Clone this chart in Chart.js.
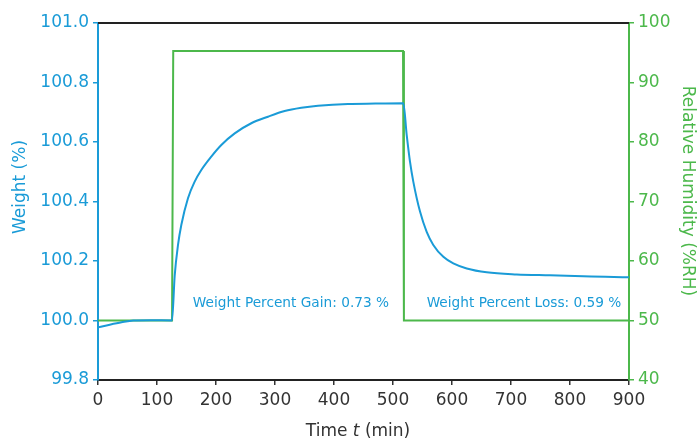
<!DOCTYPE html>
<html>
<head>
<meta charset="utf-8">
<script src="https://cdn.jsdelivr.net/npm/chart.js@4.4.1/dist/chart.umd.min.js"></script>
<style>
  html, body { margin: 0; padding: 0; background: #ffffff; }
  #wrap { width: 699px; height: 441px; }
</style>
</head>
<body>
<div id="wrap"><canvas id="c" width="699" height="441"></canvas></div>
<script>
// ---- Data ----
const weightTime = [0, 20, 40, 60, 90, 125.4, 130, 135.6, 141.2, 152.5, 163.9, 175.1, 192, 209, 231.7, 259.8, 288.1, 316.4, 344.6, 372.9, 423.7, 470, 517.5, 523.2, 528.8, 534.4, 545.8, 557.1, 568.3, 585.3, 602.2, 625, 658.8, 709.7, 766, 822.5, 860, 900];
const weightPct  = [99.977, 99.986, 99.994, 100.0, 100.001, 100.0, 100.151, 100.254, 100.321, 100.411, 100.467, 100.506, 100.551, 100.590, 100.629, 100.663, 100.685, 100.704, 100.715, 100.722, 100.728, 100.729, 100.730, 100.624, 100.534, 100.467, 100.366, 100.298, 100.254, 100.214, 100.192, 100.175, 100.162, 100.155, 100.152, 100.149, 100.147, 100.145];
const rhTime  = [0, 125.5, 127.5, 517, 518.5, 900];
const rhValue = [50, 50, 95.3, 95.3, 50, 50];
const xTicks = [0, 100, 200, 300, 400, 500, 600, 700, 800, 900];
const annotations = [
  { text: 'Weight Percent Gain: 0.73 %', t: 327, w: 100.058 },
  { text: 'Weight Percent Loss: 0.59 %', t: 722, w: 100.058 }
];
const leftTitle = 'Weight (%)';
const rightTitle = 'Relative Humidity (%RH)';

const BLUE = '#1a9bd7';
const GREEN = '#4cb84b';
const DARK = '#333333';
const FONT = "'DejaVu Sans', sans-serif";

const weightData = weightTime.map((t, i) => ({ x: t, y: weightPct[i] }));
const rhData = rhTime.map((t, i) => ({ x: t, y: rhValue[i] }));

const decor = {
  id: 'decor',
  afterDraw(chart) {
    const ctx = chart.ctx;
    const a = chart.chartArea;
    const xs = chart.scales.x, y1 = chart.scales.y;
    ctx.save();
    // top border
    ctx.strokeStyle = '#222222';
    ctx.lineWidth = 2;
    ctx.beginPath();
    ctx.moveTo(a.left, a.top);
    ctx.lineTo(a.right, a.top);
    ctx.stroke();
    // annotations
    ctx.fillStyle = BLUE;
    ctx.font = "13.7px " + FONT;
    ctx.textAlign = 'center';
    ctx.textBaseline = 'middle';
    annotations.forEach(an => {
      ctx.fillText(an.text, xs.getPixelForValue(an.t), y1.getPixelForValue(an.w));
    });
    // axis titles (vertical)
    ctx.font = "17px " + FONT;
    ctx.save();
    ctx.translate(21, 187);
    ctx.rotate(-Math.PI / 2);
    ctx.fillStyle = BLUE;
    ctx.fillText(leftTitle, 0, 0);
    ctx.restore();
    ctx.save();
    ctx.translate(687, 191);
    ctx.rotate(Math.PI / 2);
    ctx.fillStyle = GREEN;
    ctx.fillText(rightTitle, 0, 0);
    ctx.restore();
    // x axis title with italic t
    const parts = [
      { s: 'Time ', f: "17px " + FONT },
      { s: 't', f: "italic 17px " + FONT },
      { s: ' (min)', f: "17px " + FONT }
    ];
    let total = 0;
    parts.forEach(p => { ctx.font = p.f; p.w = ctx.measureText(p.s).width; total += p.w; });
    let x = 358 - total / 2;
    ctx.fillStyle = DARK;
    ctx.textAlign = 'left';
    ctx.textBaseline = 'middle';
    parts.forEach(p => { ctx.font = p.f; ctx.fillText(p.s, x, 432); x += p.w; });
    ctx.restore();
  }
};

new Chart(document.getElementById('c'), {
  type: 'line',
  data: {
    datasets: [
      {
        label: 'Weight (%)',
        data: weightData,
        yAxisID: 'y',
        borderColor: BLUE,
        borderWidth: 2,
        pointRadius: 0,
        cubicInterpolationMode: 'monotone',
        fill: false
      },
      {
        label: 'Relative Humidity (%RH)',
        data: rhData,
        yAxisID: 'y2',
        borderColor: GREEN,
        borderWidth: 2,
        pointRadius: 0,
        tension: 0,
        fill: false
      }
    ]
  },
  options: {
    responsive: false,
    animation: false,
    layout: { padding: { top: 23, left: 0, right: 0, bottom: 0 } },
    plugins: { legend: { display: false }, tooltip: { enabled: false } },
    scales: {
      x: {
        type: 'linear',
        min: 0, max: 900,
        afterBuildTicks: s => { s.ticks = xTicks.map(v => ({ value: v })); },
        afterFit: s => { s.height = 61; },
        grid: { drawOnChartArea: false, color: DARK, tickLength: 5, lineWidth: 1.5 },
        border: { color: '#222222', width: 2 },
        ticks: { color: DARK, font: { family: FONT, size: 17 }, padding: 5, maxRotation: 0 },
        title: { display: false }
      },
      y: {
        position: 'left',
        min: 99.8, max: 101.0,
        afterFit: s => { s.width = 98; },
        grid: { drawOnChartArea: false, color: BLUE, tickLength: 5, lineWidth: 1.5 },
        border: { color: BLUE, width: 2 },
        ticks: { stepSize: 0.2, color: BLUE, font: { family: FONT, size: 17 }, padding: 4,
                 callback: v => Number(v).toFixed(1) },
        title: { display: false }
      },
      y2: {
        position: 'right',
        min: 40, max: 100,
        afterFit: s => { s.width = 70; },
        grid: { drawOnChartArea: false, color: GREEN, tickLength: 5, lineWidth: 1.5 },
        border: { color: GREEN, width: 2 },
        ticks: { stepSize: 10, color: GREEN, font: { family: FONT, size: 17 }, padding: 4 },
        title: { display: false }
      }
    }
  },
  plugins: [decor]
});
</script>
</body>
</html>
